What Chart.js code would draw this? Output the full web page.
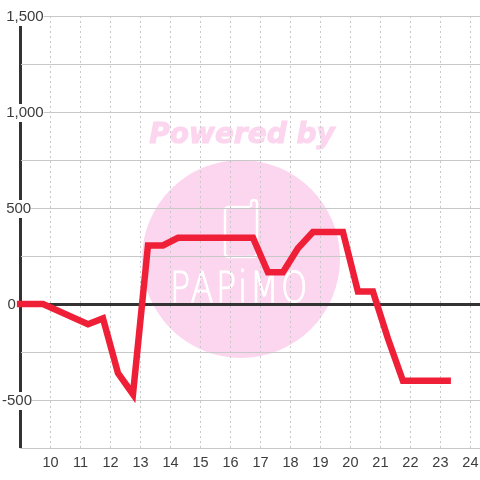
<!DOCTYPE html>
<html lang="en">
<head>
    <meta charset="UTF-8">
    <title>Power chart</title>
    <style>
        body { margin: 0; background: #fff; }
        canvas { display: block; }
    </style>
    <script src="https://cdn.jsdelivr.net/npm/chart.js"></script>
</head>
<body>
    <canvas id="chart" width="480" height="480"></canvas>
    <script>
        const hours = [8.88, 9.75, 11.25, 11.75, 12.25, 12.75, 13.25, 13.75, 14.25, 16.75, 17.25, 17.75, 18.25, 18.75, 19.75, 20.25, 20.75, 21.25, 21.75, 23.35];
        const power = [0, 0, -105, -75, -360, -470, 305, 305, 345, 345, 165, 165, 290, 375, 375, 65, 65, -180, -400, -400];
        const xTicks = [9, 10, 11, 12, 13, 14, 15, 16, 17, 18, 19, 20, 21, 22, 23, 24];
        const yLabelPrefix = { '0': ' \u200a', '500': ' ', '1000': ' ', '1500': ' ', '-500': '' };

        // watermark sits behind the grid
        const watermark = {
            id: 'watermark',
            beforeDraw(chart) {
                const ctx = chart.ctx;
                ctx.save();
                ctx.fillStyle = '#fcd5ee';
                ctx.beginPath();
                ctx.arc(241, 259, 99, 0, Math.PI * 2);
                ctx.fill();

                ctx.font = 'italic bold 28px "DejaVu Sans"';
                ctx.textAlign = 'center';
                ctx.textBaseline = 'middle';
                ctx.strokeStyle = '#fcd5ee';
                ctx.lineWidth = 1;
                ctx.fillText('Powered by', 242, 136);
                ctx.strokeText('Powered by', 242, 136);

                ctx.strokeStyle = '#fff';
                ctx.lineWidth = 2.5;
                ctx.beginPath();
                ctx.moveTo(250, 207);
                ctx.lineTo(229, 207);
                ctx.quadraticCurveTo(225, 207, 225, 211);
                ctx.lineTo(225, 253);
                ctx.quadraticCurveTo(225, 257, 229, 257);
                ctx.lineTo(253, 257);
                ctx.quadraticCurveTo(257, 257, 257, 253);
                ctx.lineTo(257, 203);
                ctx.quadraticCurveTo(257, 200, 254, 200);
                ctx.quadraticCurveTo(251, 200, 251, 203);
                ctx.lineTo(251, 207);
                ctx.stroke();

                ctx.fillStyle = '#fff';
                ctx.font = '200 42px "DejaVu Sans"';
                ctx.letterSpacing = '3px';
                ctx.lineWidth = 1;
                ctx.translate(240, 291);
                ctx.scale(0.8, 1);
                ctx.fillText('PAPiMO', 0, 0);
                ctx.strokeText('PAPiMO', 0, 0);
                ctx.restore();
            }
        };

        new Chart(document.getElementById('chart'), {
            type: 'line',
            data: {
                datasets: [{
                    data: hours.map((h, i) => ({ x: h, y: power[i] })),
                    borderColor: '#ef1f38',
                    borderWidth: 6.5,
                    pointRadius: 0,
                    tension: 0,
                    clip: false,
                    borderJoinStyle: 'miter',
                    borderCapStyle: 'butt'
                }]
            },
            options: {
                responsive: false,
                animation: false,
                layout: { padding: { top: 16, left: 20.5 } },
                plugins: { legend: { display: false }, title: { display: false }, tooltip: { enabled: false } },
                scales: {
                    x: {
                        type: 'linear',
                        min: 9,
                        max: 24.32,
                        afterBuildTicks(scale) { scale.ticks = xTicks.map(v => ({ value: v })); },
                        afterFit(scale) { scale.height = 32; scale.paddingRight = 0; },
                        grid: {
                            drawTicks: false,
                            color: c => c.tick && c.tick.value === 9 ? '#333' : '#c8c8c8',
                            lineWidth: c => c.tick && c.tick.value === 9 ? 3 : 1
                        },
                        border: { color: '#c8c8c8', dash: c => c.tick && c.tick.value === 9 ? [] : [2, 3] },
                        ticks: {
                            autoSkip: false,
                            maxRotation: 0,
                            padding: 6,
                            color: '#3c3c3c',
                            font: { family: '"Liberation Sans"', size: 14.5 },
                            callback: v => v === 9 ? '' : String(v)
                        }
                    },
                    y: {
                        min: -750,
                        max: 1500,
                        afterFit(scale) { scale.width = 0; },
                        grid: {
                            drawTicks: false,
                            color: c => c.tick && c.tick.value === 0 ? '#333' : '#c8c8c8',
                            lineWidth: c => c.tick && c.tick.value === 0 ? 3 : 1
                        },
                        border: { display: false },
                        ticks: {
                            stepSize: 250,
                            autoSkip: false,
                            mirror: true,
                            padding: -18.5,
                            labelOffset: 1,
                            z: 1,
                            color: '#3c3c3c',
                            font: { family: '"Liberation Sans"', size: 15 },
                            showLabelBackdrop: true,
                            backdropColor: '#fff',
                            backdropPadding: 0,
                            callback: v => v % 500 === 0 ? yLabelPrefix[v] + v.toLocaleString('en-US') : ''
                        }
                    }
                }
            },
            plugins: [watermark]
        });
    </script>
</body>
</html>
